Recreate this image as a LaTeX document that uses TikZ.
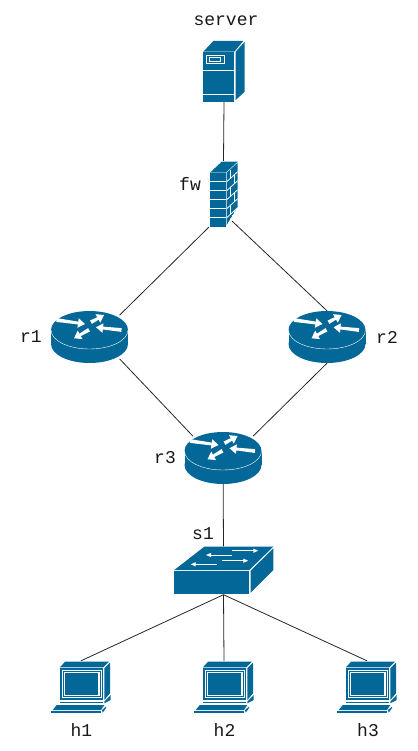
\documentclass[tikz,border=0pt]{standalone}
\usepackage{fontspec}
\setmonofont{Liberation Mono}
\usetikzlibrary{arrows.meta,shapes.geometric,calc}
\definecolor{netblue}{HTML}{036897}
% tapered white arrow of the router icon
\newcommand{\routerarrow}[2]{
    \coordinate (neck) at ($#2!7pt!#1$);
    \fill[white] ($#1!1.9pt!90:#2$) -- ($(neck)!1.4pt!90:#2$) -- ($(neck)!4.8pt!90:#2$) -- #2
        -- ($(neck)!4.8pt!-90:#2$) -- ($(neck)!1.4pt!-90:#2$) -- ($#1!1.9pt!-90:#2$) -- cycle;
}
\tikzset{
    hostlabel/.style={font=\ttfamily\fontsize{18}{20}\selectfont, text=black!90, inner sep=0pt},
    link/.style={draw=black!85, line width=0.8pt},
    thinarrow/.style={white, line width=1pt, -{Triangle[length=5pt,width=4pt]}},
    routericon/.pic={
        \fill[netblue] (0,7) ellipse [x radius=38.5pt, y radius=19pt];
        \fill[netblue] (-38.5,-7) rectangle (38.5,7);
        \fill[netblue] (0,-7) ellipse [x radius=38.5pt, y radius=19pt];
        \begin{scope}
            \clip (-39,-7) rectangle (39,14);
            \draw[white, line width=0.4pt] (0,-7) ellipse [x radius=38.5pt, y radius=19pt];
        \end{scope}
        \routerarrow{(-33,-17)}{(-4.5,-13)}
        \routerarrow{(1.5,-14.8)}{(14.5,-22)}
        \routerarrow{(32,-7)}{(6.5,-9.7)}
        \routerarrow{(-0.5,-7.2)}{(-15.5,1.3)}
    },
    servericon/.pic={
        \fill[netblue] (-20.7,-19.8) rectangle (10.3,30.2);
        \fill[netblue] (-20.7,-19.8) -- (-10.7,-30.5) -- (19.3,-30.5) -- (10.3,-19.8) -- cycle;
        \fill[netblue] (11.7,-19.8) -- (20.7,-29.8) -- (20.7,20.2) -- (11.7,28.5) -- cycle;
        \draw[white, line width=0.8pt] (-20.7,-0.8) -- (10.3,-0.8);
        \draw[white, line width=0.8pt] (-20.7,22.8) -- (10.3,22.8);
        \draw[white, line width=0.9pt] (-17.7,-16.5) rectangle (0,-8.2);
        \draw[white, line width=0.8pt] (-14.5,-14) rectangle (-3.5,-10.5);
    },
    firewallicon/.pic={
        \fill[netblue] (-13.5,-21.3) rectangle (2.2,32.7);
        \fill[netblue] (-13.5,-21.3) -- (-1.8,-32.3) -- (14.2,-32.3) -- (2.2,-21.3) -- cycle;
        \foreach \row in {1,...,5}
            \draw[white, line width=0.8pt] (-13.5,-21.3+9*\row) -- (2.2,-21.3+9*\row);
        \begin{scope}
            \clip (3.2,-21.3) -- (14.2,-31.3) -- (14.2,12.7) -- (3.2,31) -- cycle;
            \fill[netblue] (3.2,-21.3) -- (14.2,-31.3) -- (14.2,12.7) -- (3.2,31) -- cycle;
            \foreach \row in {1,...,5}
                \draw[white, line width=0.8pt] (3.2,-21.3+9*\row) -- (14.2,-31.3+9*\row);
            \foreach \row in {0,2,4}
                \draw[white, line width=0.8pt] (6.5,-24.3+9*\row) -- (6.5,-15.3+9*\row);
            \foreach \row in {1,3,5}
                \draw[white, line width=0.8pt] (10.5,-27.6+9*\row) -- (10.5,-18.6+9*\row);
        \end{scope}
    },
    switchicon/.pic={
        \fill[netblue] (-49.2,0.2) rectangle (25.8,23.5);
        \fill[netblue] (-49.2,-0.5) -- (-19.2,-23.8) -- (49.8,-23.8) -- (25.8,-0.5) -- cycle;
        \fill[netblue] (27.2,0.2) -- (49.8,-22.2) -- (49.8,-0.5) -- (27.2,22.2) -- cycle;
        \draw[thinarrow] (8.2,-15.5) -- (-17.5,-15.5);
        \draw[thinarrow] (8.2,-19.8) -- (34.8,-19.8);
        \draw[thinarrow] (-1.8,-9.8) -- (24.8,-9.8);
        \draw[thinarrow] (-6.2,-6.2) -- (-32.8,-6.2);
    },
    laptopicon/.pic={
        \fill[netblue] (-21,-19) rectangle (22.3,13);
        \fill[netblue] (-21,-19.7) -- (-16,-25.3) -- (28,-25.3) -- (22.3,-19.7) -- cycle;
        \fill[netblue] (23.3,-18.7) -- (29,-24.3) -- (29,6.3) -- (23.3,13) -- cycle;
        \fill[white] (-19.3,-17.3) rectangle (20.7,11.3);
        \fill[netblue] (-18.3,-16.3) rectangle (19.7,10.3);
        \fill[white] (-17.3,-15.3) rectangle (18.7,9.3);
        \fill[netblue] (-15.8,-13.8) rectangle (17.2,7.8);
        \fill[netblue] (-21,14.7) rectangle (22,16.3);
        \fill[netblue] (23.3,14.7) -- (29.7,8) -- (29.7,13) -- (23.3,16.3) -- cycle;
        \fill[netblue] (-24.3,18) -- (23.3,18) -- (20,23) -- (-28.3,23) -- cycle;
        \fill[netblue] (-30,24) rectangle (20,26.3);
        \fill[netblue] (21,23) -- (25,19.7) -- (25,21) -- (21.7,25.7) -- cycle;
    }
}
\begin{document}
\begin{tikzpicture}[x=1pt, y=-1pt,
    routernode/.style={ellipse, inner sep=0pt, minimum width=84pt, minimum height=62pt},
    boxnode/.style={rectangle, inner sep=0pt, minimum width=#1}
]
\useasboundingbox (0,0) rectangle (417,751);

% Devices
\node[boxnode=42pt, minimum height=61pt] (server) at (224,71.5) {};
\node[boxnode=29pt, minimum height=66pt] (fw) at (223.5,194) {};
\node[routernode] (r1) at (89.5,337) {};
\node[routernode] (r2) at (327,337) {};
\node[routernode] (r3) at (223,458) {};
\node[boxnode=99pt, minimum height=48pt] (s1) at (223.5,570.5) {};
\node[boxnode=60pt, minimum height=52pt] (h1) at (81,687) {};
\node[boxnode=60pt, minimum height=52pt] (h2) at (224,687) {};
\node[boxnode=60pt, minimum height=52pt] (h3) at (367,687) {};

% Links
\draw[link] (server.south) -- (fw.north);
\draw[link] (fw.south west) -- (r1.36);
\draw[link] ([shift={(-6,-6)}]fw.south east) -- ([yshift=-5pt]r2.north);
\draw[link] (r1.-36) -- (r3.144);
\draw[link] (r3.36) -- ([yshift=5pt]r2.south);
\draw[link] (r3.center) -- (s1.north);
\draw[link] (s1.south) -- (h1.north);
\draw[link] (s1.south) -- (h2.north);
\draw[link] (s1.south) -- (h3.north);

% Icons
\pic at (server.center) {servericon};
\pic at (fw.center) {firewallicon};
\pic at (r1.center) {routericon};
\pic at (r2.center) {routericon};
\pic at (r3.center) {routericon};
\pic at (s1.center) {switchicon};
\pic at (h1.center) {laptopicon};
\pic at (h2.center) {laptopicon};
\pic at (h3.center) {laptopicon};

% Labels
\node[hostlabel] (serverlabel) at (226,21) {server};
\node[hostlabel] (fwlabel) at (190,184) {fw};
\node[hostlabel] (r1label) at (31,337) {r1};
\node[hostlabel] (r2label) at (387,337) {r2};
\node[hostlabel] (r3label) at (165,458) {r3};
\node[hostlabel] (s1label) at (203,534) {s1};
\node[hostlabel] (h1label) at (81.5,730) {h1};
\node[hostlabel] (h2label) at (224.5,730) {h2};
\node[hostlabel] (h3label) at (368,730) {h3};

\end{tikzpicture}
\end{document}
